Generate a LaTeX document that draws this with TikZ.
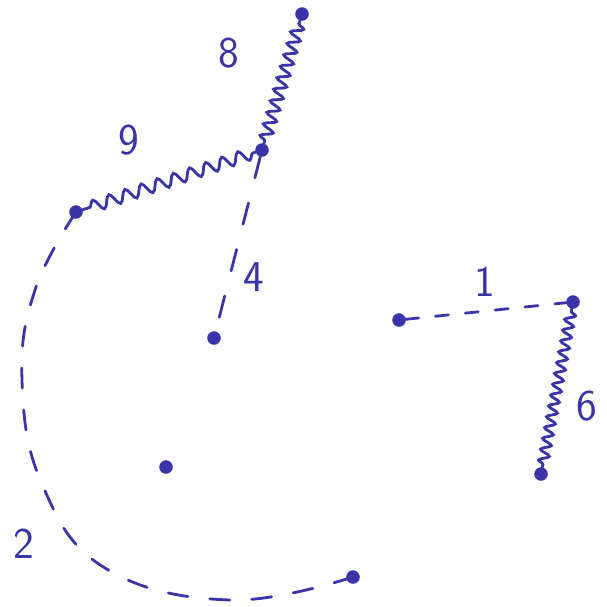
\documentclass[tikz,border=0pt]{standalone}
\usetikzlibrary{decorations.pathmorphing}
\definecolor{ink}{RGB}{58,52,168}
\begin{document}
\begin{tikzpicture}[x=1pt,y=-1pt,
  dot/.style={circle,fill=ink,draw=ink,minimum size=13pt,inner sep=0pt},
  edge/.style={draw=ink,line width=2.8pt,line cap=round},
  spring/.style={edge,decorate,decoration={snake,amplitude=#1,pre length=3pt,post length=3pt}},
  dashink/.style={edge,dash pattern=on #1 off #1},
  lbl/.style={text=ink,font=\sffamily\fontsize{44}{44}\selectfont,inner sep=0pt}]
\useasboundingbox (0,0) rectangle (607,606);
\node[dot] (A) at (302,14) {};
\node[dot] (B) at (262,150) {};
\node[dot] (C) at (76,212) {};
\node[dot] (D) at (214,338) {};
\node[dot] (E) at (166,467) {};
\node[dot] (F) at (353,577) {};
\node[dot] (G) at (399,320) {};
\node[dot] (H) at (573,302) {};
\node[dot] (I) at (541,474) {};
\draw[spring=6pt,decoration={segment length=12pt}] (B) -- (A);
\draw[spring=6pt,decoration={segment length=17pt}] (B) -- (C);
\draw[spring=5pt,decoration={segment length=11pt}] (H) -- (I);
\draw[edge,dash pattern=on 22pt off 26pt] (B) -- (D);
\draw[edge,dash pattern=on 13pt off 17pt] (G) -- (H);
\draw[edge,dash pattern=on 20pt off 22pt] plot[smooth,tension=0.7] coordinates {(C) (35,290) (22,380) (42,484) (105,568) (230,600) (F)};
\node[lbl] (l8) at (229,53) {8};
\node[lbl] (l9) at (129,140) {9};
\node[lbl] (l4) at (254,277) {4};
\node[lbl] (l1) at (485,282) {1};
\node[lbl] (l6) at (587,406) {6};
\node[lbl] (l2) at (24,544) {2};
\end{tikzpicture}
\end{document}
